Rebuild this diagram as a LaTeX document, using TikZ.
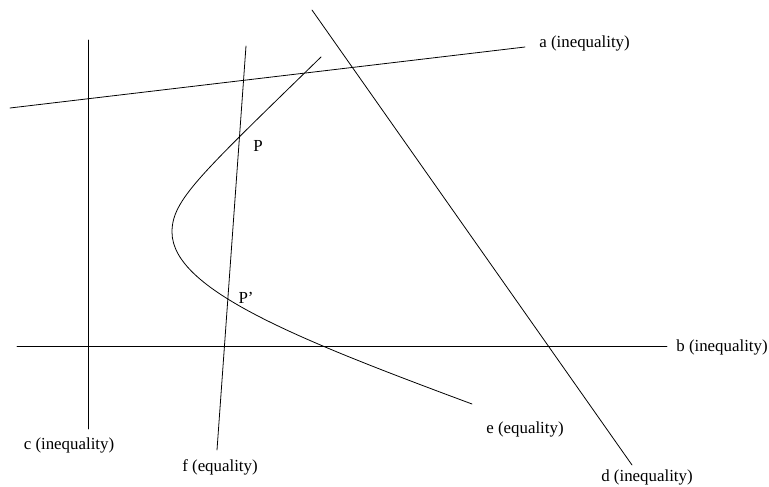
\documentclass[tikz,border=0pt]{standalone}
\usepackage{fontspec}
\setmainfont{Liberation Serif}
\usetikzlibrary{positioning}

\begin{document}
\begin{tikzpicture}[
            x=0.02cm, y=-0.02cm,
            ln/.style={draw, line width=0.45pt, line cap=round},
            lbl/.style={inner sep=0pt, font=\fontsize{9.6}{11}\selectfont}
        ]
        \useasboundingbox (0,0) rectangle (769,487);

        % Constraint lines (end points)
        \coordinate (a1) at (10,108);  \coordinate (a2) at (525,47);
        \coordinate (b1) at (17,346);  \coordinate (b2) at (667,346);
        \coordinate (c1) at (88,40);   \coordinate (c2) at (88,429);
        \coordinate (d1) at (312,10);  \coordinate (d2) at (632,465);
        \coordinate (f1) at (246,46);  \coordinate (f2) at (217,450);
        \draw[ln] (a1) -- (a2);
        \draw[ln] (b1) -- (b2);
        \draw[ln] (c1) -- (c2);
        \draw[ln] (d1) -- (d2);
        \draw[ln] (f1) -- (f2);

        % Curve e (equality)
        \coordinate (e1) at (321,57);
        \coordinate (e2) at (172,232);
        \coordinate (e3) at (472,404);
        \draw[ln] (e1) .. controls (200,175) and (172,200) .. (e2)
                       .. controls (172,290) and (300,340) .. (e3);

        % Labels
        \node[lbl, anchor=west] (la) at (539,43) {a (inequality)};
        \node[lbl, anchor=west] (lb) at (676,347) {b (inequality)};
        \node[lbl] (lc) at (69,445) {c (inequality)};
        \node[lbl] (ld) at (647,477) {d (inequality)};
        \node[lbl] (le) at (525,429) {e (equality)};
        \node[lbl] (lf) at (220,467) {f (equality)};
        \node[lbl] (p1) at (258,146) {P};
        \node[lbl] (p2) at (246,298) {P'};
        \end{tikzpicture}
\end{document}
